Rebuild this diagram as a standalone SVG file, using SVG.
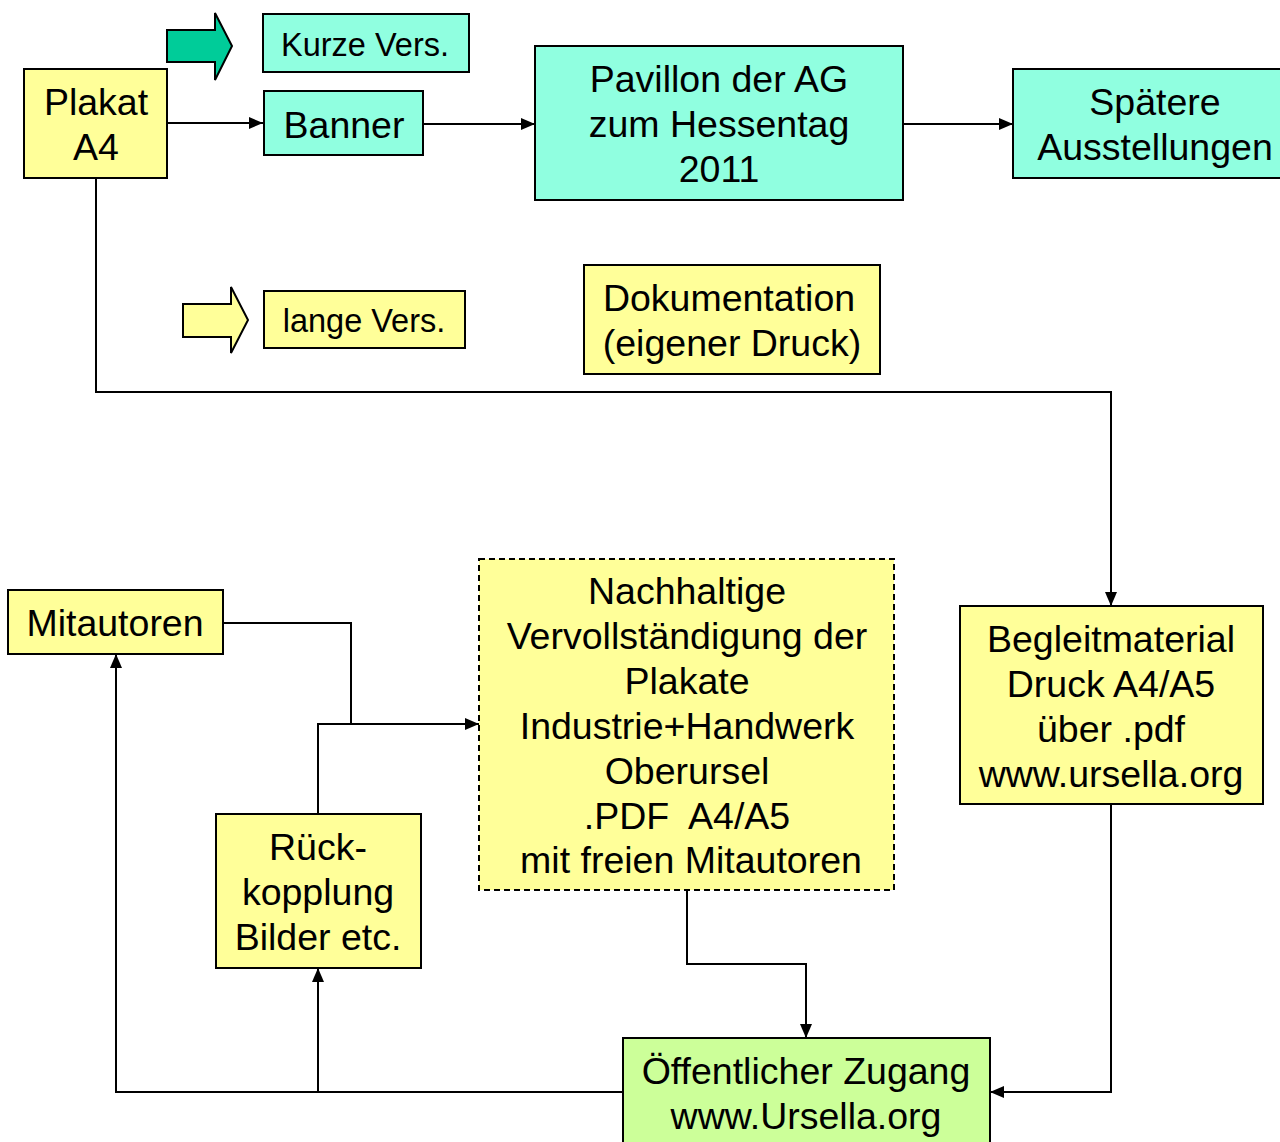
<svg xmlns="http://www.w3.org/2000/svg" width="1280" height="1142" viewBox="0 0 1280 1142">
<defs>
<style>
.b{stroke:#000;stroke-width:2}
.t{fill:#90FFE0}
.y{fill:#FFFF99}
.g{fill:#CCFF99}
text{font-family:"Liberation Sans",Arial,sans-serif;font-size:37.5px;fill:#000;text-anchor:middle}
.s{font-size:32.5px}
.c{fill:none;stroke:#000;stroke-width:2}
</style>
<marker id="a" markerWidth="14" markerHeight="14" refX="14" refY="6" orient="auto" markerUnits="userSpaceOnUse" viewBox="0 0 14 12">
<path d="M0,0L14,6L0,12z" fill="#000"/>
</marker>
</defs>
<rect width="1280" height="1142" fill="#fff"/>
<g id="connectors">
<path class="c" d="M167,123H263" marker-end="url(#a)"/>
<path class="c" d="M423,124H535" marker-end="url(#a)"/>
<path class="c" d="M893,124H1013" marker-end="url(#a)"/>
<path class="c" d="M96,178V392H1111V606" marker-end="url(#a)"/>
<path class="c" d="M1111,804V1092H990" marker-end="url(#a)"/>
<path class="c" d="M687,890V964H806V1038" marker-end="url(#a)"/>
<path class="c" d="M223,623H351V724H479" marker-end="url(#a)"/>
<path class="c" d="M318,814V724H351"/>
<path class="c" d="M623,1092H116V654" marker-end="url(#a)"/>
<path class="c" d="M318,1092V968" marker-end="url(#a)"/>
</g>
<g id="arrow-kurz">
<path class="b" d="M167,30H215V13L232,46L215,80V62H167z" fill="#00CC99"/>
</g>
<g id="arrow-lang">
<path class="b" d="M183,304H231V287L248,320L231,353V337H183z" fill="#FFFF99"/>
</g>
<g id="plakat">
<rect class="b y" x="24" y="69" width="143" height="109"/>
<text x="96" y="115">Plakat</text>
<text x="96" y="160">A4</text>
</g>
<g id="kurze">
<rect class="b t" x="263" y="14" width="206" height="58"/>
<text class="s" x="365" y="56">Kurze Vers.</text>
</g>
<g id="banner">
<rect class="b t" x="264" y="91" width="159" height="64"/>
<text x="344" y="138">Banner</text>
</g>
<g id="pavillon">
<rect class="b t" x="535" y="46" width="368" height="154"/>
<text x="719" y="92">Pavillon der AG</text>
<text x="719" y="137">zum Hessentag</text>
<text x="719" y="182">2011</text>
</g>
<g id="spaetere">
<rect class="b t" x="1013" y="69" width="270" height="109"/>
<text x="1155" y="115">Spätere</text>
<text x="1155" y="160">Ausstellungen</text>
</g>
<g id="lange">
<rect class="b y" x="264" y="291" width="201" height="57"/>
<text class="s" x="364" y="332">lange Vers.</text>
</g>
<g id="doku">
<rect class="b y" x="584" y="265" width="296" height="109"/>
<text x="729" y="311">Dokumentation</text>
<text x="732" y="356">(eigener Druck)</text>
</g>
<g id="begleit">
<rect class="b y" x="960" y="606" width="303" height="198"/>
<text x="1111" y="652">Begleitmaterial</text>
<text x="1111" y="697">Druck A4/A5</text>
<text x="1111" y="742">über .pdf</text>
<text x="1111" y="787">www.ursella.org</text>
</g>
<g id="nachhaltig">
<rect class="y" x="479" y="559" width="415" height="331" stroke="#000" stroke-width="2" stroke-dasharray="6,4"/>
<text x="687" y="604">Nachhaltige</text>
<text x="687" y="649">Vervollständigung der</text>
<text x="687" y="694">Plakate</text>
<text x="687" y="739">Industrie+Handwerk</text>
<text x="687" y="784">Oberursel</text>
<text x="687" y="829" xml:space="preserve">.PDF  A4/A5</text>
<text x="691" y="873">mit freien Mitautoren</text>
</g>
<g id="mitautoren">
<rect class="b y" x="8" y="590" width="215" height="64"/>
<text x="115" y="636">Mitautoren</text>
</g>
<g id="rueck">
<rect class="b y" x="216" y="814" width="205" height="154"/>
<text x="318" y="860">Rück-</text>
<text x="318" y="905">kopplung</text>
<text x="318" y="950">Bilder etc.</text>
</g>
<g id="oeffentlich">
<rect class="b g" x="623" y="1038" width="367" height="110"/>
<text x="806" y="1084">Öffentlicher Zugang</text>
<text x="806" y="1129">www.Ursella.org</text>
</g>
</svg>
